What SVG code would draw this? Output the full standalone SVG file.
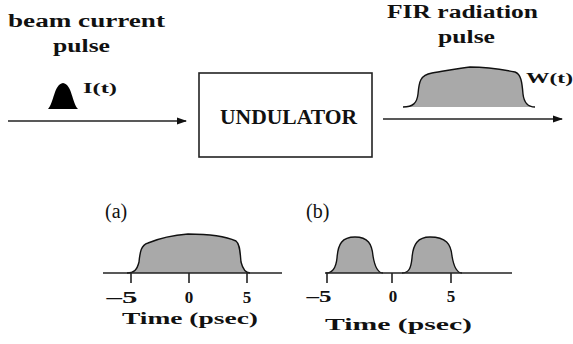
<svg xmlns="http://www.w3.org/2000/svg" width="573" height="344" viewBox="0 0 573 344">
<defs>
<marker id="ah" markerWidth="10" markerHeight="8" refX="9" refY="4" orient="auto" markerUnits="userSpaceOnUse">
<path d="M0,0.5 L10,4 L0,7.5 Z" fill="#111"/>
</marker>
<style>
.lbl{font-family:"Liberation Serif","DejaVu Serif",serif;font-weight:bold;fill:#111}
.ser{font-family:"Liberation Serif","DejaVu Serif",serif;fill:#111}
.ln{stroke:#222;stroke-width:1.6;fill:none}
.pf{fill:#a9a9a9;stroke:none}
.po{fill:none;stroke:#111;stroke-width:1.4}
</style>
</defs>
<rect width="573" height="344" fill="#fff"/>

<g id="input-label">
<text class="lbl" x="8" y="27" font-size="18" textLength="157" lengthAdjust="spacingAndGlyphs">beam current</text>
<text class="lbl" x="53" y="52" font-size="18" textLength="57" lengthAdjust="spacingAndGlyphs">pulse</text>
</g>

<g id="current-pulse">
<path d="M48,109 C54,103 54,84 63,83 C72,84 72,103 78,109 Z" fill="#000"/>
<text class="lbl" x="83" y="93" font-size="15" textLength="34" lengthAdjust="spacingAndGlyphs">I(t)</text>
</g>

<g id="undulator">
<rect x="199" y="73" width="173" height="84" fill="#fff" stroke="#222" stroke-width="1.6"/>
<text class="lbl" x="220" y="124" font-size="21" textLength="137" lengthAdjust="spacingAndGlyphs">UNDULATOR</text>
</g>

<g id="output-label">
<text class="lbl" x="387" y="18" font-size="18" textLength="151" lengthAdjust="spacingAndGlyphs">FIR radiation</text>
<text class="lbl" x="438" y="43" font-size="18" textLength="57" lengthAdjust="spacingAndGlyphs">pulse</text>
</g>

<g id="radiation-pulse">
<path class="pf" d="M403,107 C413,107 417,103 418,94 C419,82 420,75 432,73 C445,71 460,68 470,67 C490,67 505,70 515,72 C521,74 522,82 523,94 C524,103 528,107 535,107 Z"/>
<path class="po" d="M403,107 C413,107 417,103 418,94 C419,82 420,75 432,73 C445,71 460,68 470,67 C490,67 505,70 515,72 C521,74 522,82 523,94 C524,103 528,107 535,107"/>
<text class="lbl" x="526" y="83" font-size="15" textLength="47" lengthAdjust="spacingAndGlyphs">W(t)</text>
</g>

<g id="connectors">
<line class="ln" x1="8" y1="121" x2="186" y2="121" marker-end="url(#ah)"/>
<line class="ln" x1="383" y1="119" x2="562" y2="119" marker-end="url(#ah)"/>
</g>

<g id="plot-a">
<text class="ser" x="105" y="218" font-size="20">(a)</text>
<path class="pf" d="M127,273 C134,273 137,270 139,262 C140,252 141,245 148,243 C160,238 175,235 188,234 C205,234 225,236 236,241 C240,244 240,252 241,262 C243,270 246,273 250,273 Z"/>
<path class="po" d="M127,273 C134,273 137,270 139,262 C140,252 141,245 148,243 C160,238 175,235 188,234 C205,234 225,236 236,241 C240,244 240,252 241,262 C243,270 246,273 250,273"/>
<line class="ln" x1="103" y1="273" x2="282" y2="273"/>
<line class="ln" x1="131" y1="273" x2="131" y2="283"/>
<line class="ln" x1="189" y1="273" x2="189" y2="283"/>
<line class="ln" x1="247" y1="273" x2="247" y2="283"/>
<text class="lbl" x="122" y="303" font-size="17" text-anchor="middle" textLength="31" lengthAdjust="spacingAndGlyphs">–5</text>
<text class="lbl" x="189" y="303" font-size="17" text-anchor="middle">0</text>
<text class="lbl" x="247" y="303" font-size="17" text-anchor="middle">5</text>
<text class="lbl" x="122" y="324" font-size="17" textLength="136" lengthAdjust="spacingAndGlyphs">Time (psec)</text>
</g>

<g id="plot-b">
<text class="ser" x="306" y="218" font-size="20">(b)</text>
<path class="pf" d="M326,273 C333,273 336,268 337,258 C338,244 342,237 355,237 C368,237 372,244 373,256 C375,268 379,273 383,273 Z M402,273 C409,273 411,268 412,258 C413,244 418,237 430,237 C446,237 451,244 452,256 C454,268 457,273 462,273 Z"/>
<path class="po" d="M326,273 C333,273 336,268 337,258 C338,244 342,237 355,237 C368,237 372,244 373,256 C375,268 379,273 383,273 M402,273 C409,273 411,268 412,258 C413,244 418,237 430,237 C446,237 451,244 452,256 C454,268 457,273 462,273"/>
<line class="ln" x1="325" y1="273" x2="512" y2="273"/>
<line class="ln" x1="327" y1="273" x2="327" y2="283"/>
<line class="ln" x1="392" y1="273" x2="392" y2="283"/>
<line class="ln" x1="451" y1="273" x2="451" y2="283"/>
<text class="lbl" x="319" y="302" font-size="17" text-anchor="middle" textLength="25" lengthAdjust="spacingAndGlyphs">–5</text>
<text class="lbl" x="393" y="302" font-size="17" text-anchor="middle">0</text>
<text class="lbl" x="451" y="302" font-size="17" text-anchor="middle">5</text>
<text class="lbl" x="325" y="330" font-size="17" textLength="147" lengthAdjust="spacingAndGlyphs">Time (psec)</text>
</g>
</svg>
